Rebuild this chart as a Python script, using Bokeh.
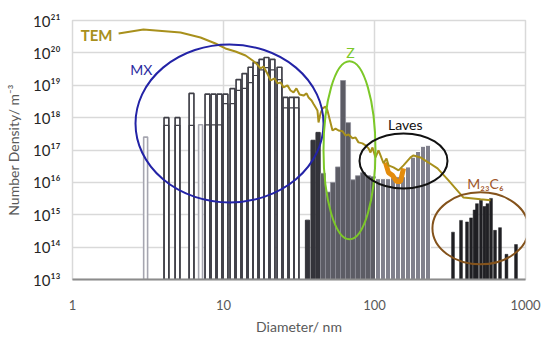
import numpy as np
from bokeh.plotting import figure
from bokeh.models import FixedTicker, Title
from bokeh.core.properties import value
from bokeh.embed import file_html
from bokeh.resources import INLINE

# ---------------- data ----------------
# MX histogram (outlined bars): diameter (nm), number density (m^-3)
mx_d = [4.19, 4.96, 6.14, 7.83, 8.59, 9.41, 10.31, 11.47, 12.57, 13.77, 15.10,
        16.29, 17.85, 19.27, 21.11, 23.49, 25.74, 28.21, 30.43]
mx_n = [1e18, 1e18, 5.6e18, 5.3e18, 5.3e18, 5.3e18, 5.3e18, 7.9e18, 1.5e19, 2.3e19,
        3.6e19, 5e19, 6.3e19, 7.2e19, 6.3e19, 3.6e19, 4.2e18, 4.2e18, 4.2e18]
mx_inner_n = [5.8e17, 5.8e17, 5.8e17, 6e17, 6e17, 6e17, 2.7e18, 2.7e18, 6.9e18, 8e18,
              1.2e19, 2e19, 3e19, 3.5e19, 3e19, 1.5e19, 2e18, 2e18, 2e18]
# light grey outlined bars
light_d = [3.05, 7.05]
light_n = [2.5e17, 6e17]
# dark filled bars (~35-45 nm)
dark_d = [36.0, 39.2, 42.3]
dark_n = [6.8e14, 2e17, 3.5e17]
# Z-phase grey filled bars
z_d = [45.6, 49.2, 53.1, 57.3, 61.9, 66.8, 72.0, 77.7, 83.9, 90.6, 97.7]
z_n = [1.9e16, 5e15, 1e16, 3e16, 1.4e19, 7e17, 1.2e16, 1.6e16, 2e16, 1.6e16, 1.5e16]
# Laves grey bars
lav_d = [105.5, 113.8, 122.9, 132.6, 143.1, 154.4, 166.7, 179.9, 194.2, 209.5, 226.1]
lav_n = [1.3e16, 1.3e16, 1.3e16, 1.4e16, 1.5e16, 1.5e16, 3e16, 6e16, 9e16, 1.3e17, 1.4e17]
# M23C6 black bars
m_d = [331, 374, 410, 436, 460, 477, 507, 535, 560, 591, 628, 678, 748, 865]
m_n = [2.9e14, 6.7e14, 6e14, 8e14, 1.4e15, 2.2e15, 2.8e15, 1.8e15, 2.2e15, 3.2e15,
       3.3e14, 4e14, 6e13, 1.2e14]

# TEM curve
tem_d = [2.02, 2.95, 5.19, 7.04, 8.85, 10.3, 12.0, 14.0, 15.6, 16.5, 17.6, 18.4, 19.6,
         20.5, 21.8, 22.8, 23.9, 25.0, 26.5, 27.8, 29.1, 30.4, 31.9, 33.9, 35.5, 36.6,
         38.3, 39.4, 40.7, 41.9, 42.6, 43.9, 45.3, 47.4, 48.8, 51.1, 52.7, 55.2, 57.8,
         61.4, 64.3, 67.3, 71.5, 74.9, 78.3, 83.2, 87.2, 91.3, 94.1, 97.0, 101.5, 106.3,
         109.6, 114.7, 120.1, 123.8, 133.6, 144.2, 155.6, 173.2, 181.3, 201.7, 227.8,
         261.4, 309.1, 388.5, 503.5, 586.5]
tem_n = [3.97e20, 5.27e20, 4.26e20, 2.99e20, 1.95e20, 1.37e20, 1.10e20, 8.3e19, 5.8e19,
         4.7e19, 3.3e19, 3.8e19, 2.2e19, 1.41e19, 1.62e19, 1.14e19, 1.22e19, 8.6e18,
         9.9e18, 6.9e18, 6.0e18, 8.0e18, 5.2e18, 4.8e18, 5.6e18, 4.2e18, 3.4e18, 2.7e18,
         2.1e18, 1.67e18, 7.1e17, 1.35e18, 1.92e18, 2.2e18, 1.67e18, 7.1e17, 4.0e17,
         4.6e17, 4.0e17, 3.8e17, 2.8e17, 3.0e17, 2.3e17, 2.45e17, 1.72e17, 1.6e17,
         1.39e17, 1.12e17, 8.4e16, 1.2e17, 5.9e16, 9.7e16, 6.8e16, 3.9e16, 5.5e16,
         3.35e16, 2.9e16, 2.35e16, 3.35e16, 5.9e16, 6.8e16, 5.9e16, 4.1e16, 2.7e16,
         1.15e16, 3.4e15, 3.0e15, 2.8e15]
# orange segment in Laves region
org_d = [118.2, 123.8, 131.6, 139.9, 148.6, 155.6]
org_n = [4.1e16, 2.0e16, 1.65e16, 1.07e16, 1.07e16, 2.7e16]

# ellipse centres (MX, Z, Laves, M23C6)
ell_d = [10.96, 68.3, 155.6, 503]
ell_n = [6.6e17, 9.8e16, 4.6e16, 3.8e14]

# text labels
lab_text = ["TEM", "MX", "Z", "Laves", "M₂₃C₆"]
lab_d = [1.84, 2.86, 69.3, 160, 543]
lab_n = [3.5e20, 3.1e19, 1.0e20, 6.2e17, 9.4e15]

x_ticks = [1, 10, 100, 1000]
x_tick_labels = ["1", "10", "100", "1000"]
y_ticks = [1e13, 1e14, 1e15, 1e16, 1e17, 1e18, 1e19, 1e20, 1e21]
y_tick_labels = ["10¹³", "10¹⁴", "10¹⁵", "10¹⁶", "10¹⁷", "10¹⁸", "10¹⁹", "10²⁰", "10²¹"]

FONT = "Lato"
BASE = 1e13

p = figure(width=550, height=343, x_axis_type="log", y_axis_type="log",
           x_range=(1, 1000), y_range=(1e13, 1e21),
           output_backend="svg", toolbar_location=None,
           min_border_left=72, min_border_right=25, min_border_top=20, min_border_bottom=64)

p.outline_line_color = "#d9d9d9"
p.outline_line_width = 1.5
p.background_fill_color = "white"

for ax in (p.xaxis[0], p.yaxis[0]):
    ax.major_tick_line_color = None
    ax.minor_tick_line_color = None
    ax.major_label_text_font = FONT
    ax.axis_label_text_font = FONT
    ax.axis_label_text_font_style = "normal"

p.xaxis.ticker = FixedTicker(ticks=x_ticks)
p.xaxis.major_label_overrides = dict(zip(x_ticks, x_tick_labels))
p.xaxis.major_label_text_font_size = "13px"
p.xaxis.major_label_text_color = "#595959"
p.xaxis.major_label_standoff = 14
p.xaxis.axis_line_color = "#8c8c8c"
p.xaxis.axis_line_width = 2

p.yaxis.ticker = FixedTicker(ticks=y_ticks)
p.yaxis.major_label_overrides = dict(zip(y_ticks, y_tick_labels))
p.yaxis.major_label_text_font_size = "15px"
p.yaxis.major_label_text_color = "#262626"
p.yaxis.major_label_standoff = 6
p.yaxis.axis_line_color = None
p.yaxis.axis_label = "Number Density/ m⁻³"
p.yaxis.axis_label_text_font_size = "14px"
p.yaxis.axis_label_text_color = "#595959"
p.yaxis.axis_label_standoff = 8

p.xgrid.grid_line_color = "#d9d9d9"
p.ygrid.grid_line_color = "#d9d9d9"
p.xgrid.grid_line_width = 1.5
p.ygrid.grid_line_width = 1.5


def edges(d, hw):
    d = np.asarray(d, dtype=float)
    return d / 10 ** hw, d * 10 ** hw


# MX outlined bars
l, r = edges(mx_d, 0.016)
p.quad(left=l, right=r, bottom=BASE, top=mx_n, fill_color="white",
       line_color="#404048", line_width=1.7)
p.quad(left=l, right=r, bottom=BASE, top=mx_inner_n, fill_color=None,
       line_color="#404048", line_width=1.2)
l, r = edges(light_d, 0.013)
p.quad(left=l, right=r, bottom=BASE, top=light_n, fill_color="white",
       line_color="#a6a6b0", line_width=1.6)
# dark bars
l, r = edges(dark_d, 0.014)
p.quad(left=l, right=r, bottom=BASE, top=dark_n, fill_color="#34343a",
       line_color="#34343a", line_width=1)
# Z bars
l, r = edges(z_d, 0.0166)
p.quad(left=l, right=r, bottom=BASE, top=z_n, fill_color="#5c5c65",
       line_color="#8e8e98", line_width=0.8)
# Laves bars
l, r = edges(lav_d, 0.0166)
p.quad(left=l, right=r, bottom=BASE, top=lav_n, fill_color="#80808c",
       line_color="white", line_width=1)
# M23C6 bars
l, r = edges(m_d, 0.0095)
p.quad(left=l, right=r, bottom=BASE, top=m_n, fill_color="#202024",
       line_color="#202024", line_width=0.5)

# orange segment + TEM curve
p.line(org_d, org_n, line_color="#e48c0c", line_width=5)
p.line(tem_d, tem_n, line_color="#a8901c", line_width=2)

# ellipses (screen-sized)
ell_w = [188, 52, 88, 96]
ell_h = [158, 178, 55, 72]
ell_col = ["#2323a6", "#7cc828", "#111111", "#84531c"]
p.ellipse(x=ell_d, y=ell_n, width=ell_w, height=ell_h, width_units="screen",
          height_units="screen", fill_color=None, line_color=ell_col, line_width=2)

# labels
lab_col = ["#a8901c", "#2b2ba0", "#7cc828", "#111111", "#a0562a"]
lab_align = ["right", "center", "center", "center", "center"]
lab_style = ["bold", "normal", "normal", "normal", "normal"]
lab_size = ["15px", "14px", "14px", "14px", "14px"]
for t, xd, yn, c, a, s, fs in zip(lab_text, lab_d, lab_n, lab_col, lab_align, lab_style, lab_size):
    p.text(x=[xd], y=[yn], text=[t], text_color=c, text_align=a, text_baseline="middle",
           text_font=value(FONT), text_font_size=fs, text_font_style=s)

# x axis title (shifted right like the reference)
p.add_layout(Title(text="Diameter/ nm", align="center", offset=18, standoff=6,
                   text_font=FONT, text_font_size="14px", text_font_style="normal",
                   text_color="#595959"), "below")

open("out.html", "w").write(file_html(p, INLINE))
